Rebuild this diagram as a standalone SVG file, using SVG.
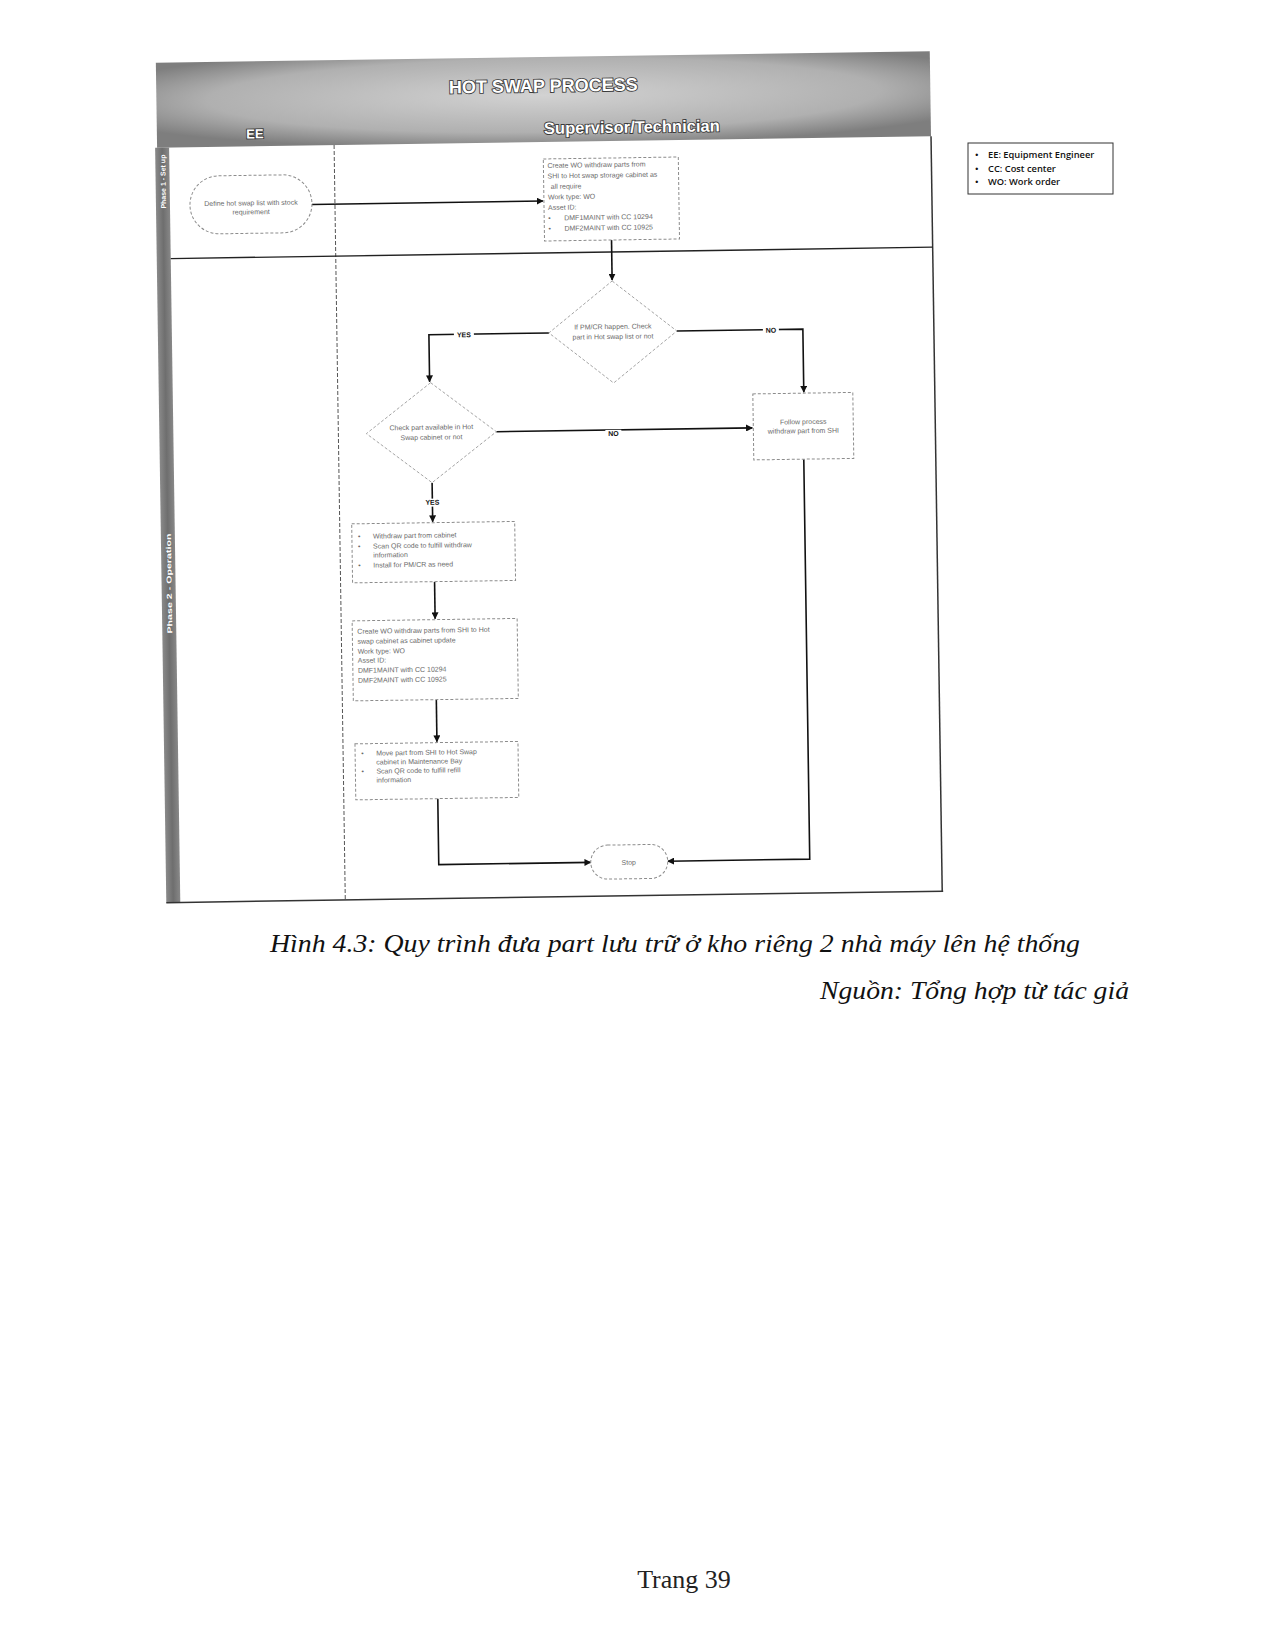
<svg xmlns="http://www.w3.org/2000/svg" width="1275" height="1650" viewBox="0 0 1275 1650">
<defs>
<radialGradient id="hdr" cx="0.5" cy="0.45" r="0.62">
<stop offset="0" stop-color="#d2d2d2"/>
<stop offset="0.7" stop-color="#b0b0b0"/>
<stop offset="1" stop-color="#7e7e7e"/>
</radialGradient>
<linearGradient id="strip" x1="0" x2="1" y1="0" y2="0">
<stop offset="0" stop-color="#8a8a8a"/>
<stop offset="0.5" stop-color="#6e6e6e"/>
<stop offset="1" stop-color="#888"/>
</linearGradient>
<marker id="arr" viewBox="0 0 10 10" refX="9" refY="5" markerWidth="7" markerHeight="7" markerUnits="userSpaceOnUse" orient="auto">
<path d="M0,0 L10,5 L0,10 z" fill="#111"/>
</marker>
</defs>
<style>
.t{font-family:"Liberation Sans","Open Sans",sans-serif;font-size:7px;fill:#6a6a6a}
.tc{font-family:"Liberation Sans","Open Sans",sans-serif;font-size:7px;fill:#6a6a6a;text-anchor:middle}
.box{fill:#fff;stroke:#8c8c8c;stroke-width:1;stroke-dasharray:3 2}
.dia{fill:#fff;stroke:#9a9a9a;stroke-width:0.9;stroke-dasharray:3 2}
.ln{fill:none;stroke:#111;stroke-width:1.6}
.lbl{font-family:"Liberation Sans",sans-serif;font-size:7px;font-weight:bold;fill:#111;text-anchor:middle}
.lblbg{fill:#fff}
.hd{font-family:"Liberation Sans",sans-serif;font-weight:bold;fill:#fff;stroke:#3a3a3a;stroke-width:1.8;paint-order:stroke;text-anchor:middle}
.ph{font-family:"Liberation Sans",sans-serif;font-weight:bold;font-size:7px;fill:#fff;text-anchor:middle}
.lg{font-family:"Open Sans","Liberation Sans",sans-serif;font-size:9.3px;font-weight:600;fill:#111}
.cap{font-family:"Liberation Serif","Times New Roman",serif;font-style:italic;font-size:25px;fill:#111}
</style>

<g id="diagram" transform="rotate(-0.85 545 475)">
<g id="frame">
<rect x="162" y="57" width="774" height="85" fill="url(#hdr)"/>
<text class="hd" x="549" y="92" font-size="18">HOT SWAP PROCESS</text>
<text class="hd" x="260" y="134" font-size="13">EE</text>
<text class="hd" x="637" y="134" font-size="16.5">Supervisor/Technician</text>
<rect x="160" y="142" width="14" height="755" fill="url(#strip)"/>
<text class="ph" transform="translate(170 176) rotate(-90)" textLength="54" lengthAdjust="spacingAndGlyphs">Phase 1 - Set up</text>
<text class="ph" transform="translate(170 578) rotate(-90)" textLength="100" lengthAdjust="spacingAndGlyphs">Phase 2 - Operation</text>
<line x1="936" y1="142" x2="936" y2="897" stroke="#333" stroke-width="1.5"/>
<line x1="160" y1="897" x2="937" y2="897" stroke="#333" stroke-width="1.5"/>
<line x1="339" y1="142" x2="339" y2="897" stroke="#555" stroke-width="1" stroke-dasharray="4 2"/>
<line x1="174" y1="253" x2="936" y2="253" stroke="#222" stroke-width="1.3"/>
</g>

<g id="connectors">
<path class="ln" d="M316,201 H547" marker-end="url(#arr)"/>
<path class="ln" d="M615,241 V281" marker-end="url(#arr)"/>
<path class="ln" d="M551,333 H431 V380" marker-end="url(#arr)"/>
<path class="ln" d="M679,333 H805 V396" marker-end="url(#arr)"/>
<path class="ln" d="M497,431 H753" marker-end="url(#arr)"/>
<path class="ln" d="M432,481 V520" marker-end="url(#arr)"/>
<path class="ln" d="M433,580 V617" marker-end="url(#arr)"/>
<path class="ln" d="M433,698 V740" marker-end="url(#arr)"/>
<path class="ln" d="M433,797 V863 H585" marker-end="url(#arr)"/>
<path class="ln" d="M804,463 V863 H662" marker-end="url(#arr)"/>
<rect class="lblbg" x="456" y="330" width="20" height="8"/>
<text class="lbl" x="466" y="336">YES</text>
<rect class="lblbg" x="765" y="329" width="16" height="8"/>
<text class="lbl" x="773" y="336">NO</text>
<rect class="lblbg" x="606" y="431" width="16" height="8"/>
<text class="lbl" x="614" y="437">NO</text>
<rect class="lblbg" x="422" y="497" width="20" height="8"/>
<text class="lbl" x="432" y="503">YES</text>
</g>

<g id="start">
<rect class="box" x="194" y="171" width="122" height="58" rx="29"/>
<text class="tc" x="255" y="201">Define hot swap list with stock</text>
<text class="tc" x="255" y="210">requirement</text>
</g>

<g id="create-wo-setup">
<rect class="box" x="548" y="159" width="135" height="82"/>
<text class="t" x="552" y="168">Create WO withdraw parts from</text>
<text class="t" x="552" y="178.5">SHI to Hot swap storage cabinet as</text>
<text class="t" x="555" y="189">all require</text>
<text class="t" x="552" y="199.5">Work type: WO</text>
<text class="t" x="552" y="210">Asset ID:</text>
<text class="t" x="552" y="220.5">•</text>
<text class="t" x="568" y="220.5">DMF1MAINT with CC 10294</text>
<text class="t" x="552" y="231">•</text>
<text class="t" x="568" y="231">DMF2MAINT with CC 10925</text>
</g>

<g id="decision-pm">
<polygon class="dia" points="615,282 679,333 615,384 551,333"/>
<text class="tc" x="615" y="330">If PM/CR happen. Check</text>
<text class="tc" x="615" y="340">part in Hot swap list or not</text>
</g>

<g id="decision-available">
<polygon class="dia" points="432,381 497,431 432,481 367,431"/>
<text class="tc" x="432" y="428">Check part available in Hot</text>
<text class="tc" x="432" y="438">Swap cabinet or not</text>
</g>

<g id="follow-process">
<rect class="box" x="754" y="397" width="100" height="66"/>
<text class="tc" x="804" y="428">Follow process</text>
<text class="tc" x="804" y="437">withdraw part from SHI</text>
</g>

<g id="withdraw-cabinet">
<rect class="box" x="351" y="521" width="163" height="59"/>
<text class="t" x="357" y="536">•</text>
<text class="t" x="372" y="536">Withdraw part from cabinet</text>
<text class="t" x="357" y="546">•</text>
<text class="t" x="372" y="546">Scan QR code to fulfill withdraw</text>
<text class="t" x="372" y="555">information</text>
<text class="t" x="357" y="565">•</text>
<text class="t" x="372" y="565">Install for PM/CR as need</text>
</g>

<g id="create-wo-refill">
<rect class="box" x="350" y="618" width="165" height="80"/>
<text class="t" x="355" y="631">Create WO withdraw parts from SHI to Hot</text>
<text class="t" x="355" y="641">swap cabinet as cabinet update</text>
<text class="t" x="355" y="651">Work type: WO</text>
<text class="t" x="355" y="660">Asset ID:</text>
<text class="t" x="355" y="670">DMF1MAINT with CC 10294</text>
<text class="t" x="355" y="680">DMF2MAINT with CC 10925</text>
</g>

<g id="move-part">
<rect class="box" x="351" y="741" width="163" height="56"/>
<text class="t" x="357" y="753">•</text>
<text class="t" x="372" y="753">Move part from SHI to Hot Swap</text>
<text class="t" x="372" y="762">cabinet in Maintenance Bay</text>
<text class="t" x="357" y="771">•</text>
<text class="t" x="372" y="771">Scan QR code to fulfill refill</text>
<text class="t" x="372" y="780">information</text>
</g>

<g id="stop">
<rect class="box" x="585" y="846" width="77" height="34" rx="17"/>
<text class="tc" x="623" y="866">Stop</text>
</g>
</g>

<g id="legend">
<rect x="968" y="143" width="145" height="51" fill="#fff" stroke="#333" stroke-width="1"/>
<text class="lg" x="975" y="158">•</text>
<text class="lg" x="988" y="158">EE: Equipment Engineer</text>
<text class="lg" x="975" y="171.5">•</text>
<text class="lg" x="988" y="171.5">CC: Cost center</text>
<text class="lg" x="975" y="185">•</text>
<text class="lg" x="988" y="185">WO: Work order</text>
</g>

<g id="caption">
<text class="cap" x="270" y="952" textLength="810" lengthAdjust="spacingAndGlyphs">Hình 4.3: Quy trình đưa part lưu trữ ở kho riêng 2 nhà máy lên hệ thống</text>
<text class="cap" x="1129" y="999" text-anchor="end" textLength="309" lengthAdjust="spacingAndGlyphs">Nguồn: Tổng hợp từ tác giả</text>
<text x="684" y="1588" text-anchor="middle" font-family="Liberation Serif, Times New Roman, serif" font-size="26" fill="#222">Trang 39</text>
</g>
</svg>
